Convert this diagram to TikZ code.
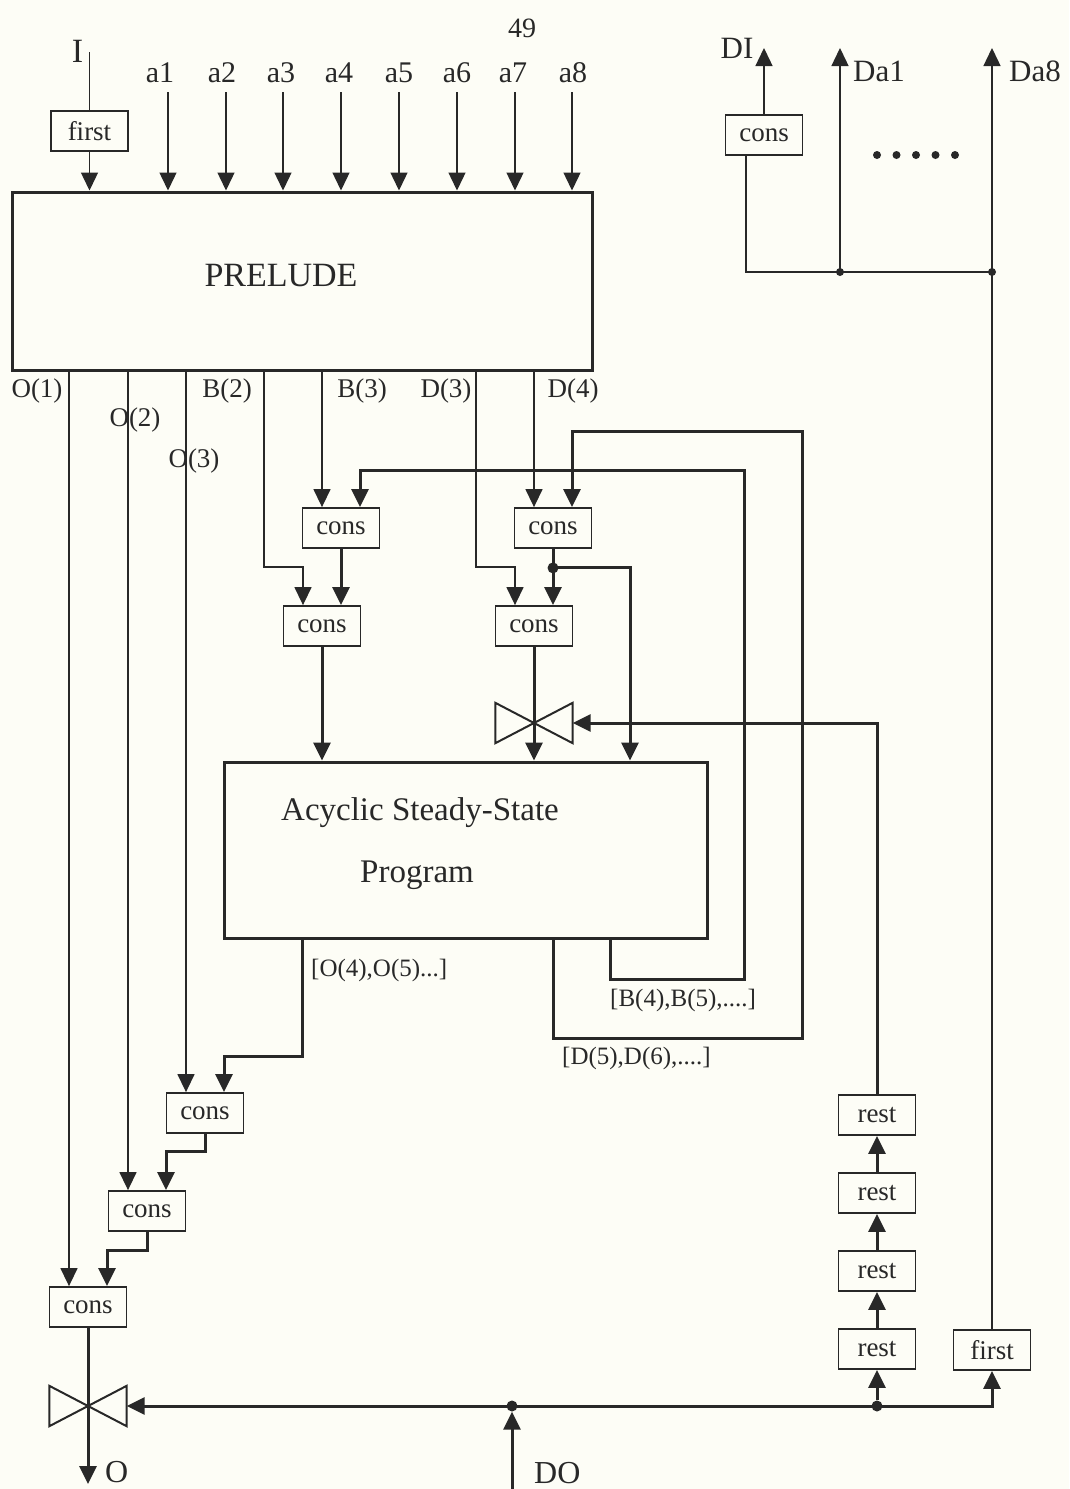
\documentclass[tikz,border=0pt]{standalone}
\usepackage{fontspec}
\setmainfont{Liberation Serif}
\usetikzlibrary{arrows.meta}
\definecolor{ink}{RGB}{40,40,40}
\definecolor{paper}{RGB}{253,253,246}
\newcommand\fsz[1]{\fontsize{#1}{#1}\selectfont}

\begin{document}
\begin{tikzpicture}[x=1pt, y=-1pt, color=ink,
  box/.style={draw, line width=1.8pt, minimum width=77pt, minimum height=40pt, inner sep=0pt, font=\fsz{27}},
  big/.style={draw, line width=3pt, inner sep=0pt},
  valve/.style={minimum width=77pt, minimum height=40pt, inner sep=0pt},
  lbl/.style={anchor=base, inner sep=0pt, font=\fsz{27}},
  dot/.style={circle, fill, inner sep=0pt, minimum size=11pt},
  wire/.style={line width=1.4pt},
  bus/.style={line width=3pt},
  arr/.style={-{Triangle[width=17pt,length=18pt]}}
]
\fill[paper] (0,0) rectangle (1069,1489);
\useasboundingbox (0,0) rectangle (1069,1489);

% main blocks
\node[big, minimum width=580pt, minimum height=178pt] (prelude) at (302,281) {};
\node[big, minimum width=483pt, minimum height=176pt] (acyc) at (465.5,850) {};
\node[lbl, font=\fsz{34}] (tPrelude) at (281,286) {PRELUDE};
\node[lbl, font=\fsz{33}] (tAcyc1) at (420,820) {Acyclic Steady-State};
\node[lbl, font=\fsz{33}] (tAcyc2) at (417,882) {Program};

% small boxes
\node[box] (firstI) at (89.5,131) {first};
\node[box] (consDI) at (764,135) {cons};
\node[box] (cB1) at (341,528) {cons};
\node[box] (cB2) at (322,626) {cons};
\node[box] (cD1) at (553,528) {cons};
\node[box] (cD2) at (534,626) {cons};
\node[box] (cO3) at (205,1113) {cons};
\node[box] (cO2) at (147,1211) {cons};
\node[box] (cO1) at (88,1307) {cons};
\node[box] (rest4) at (877,1115) {rest};
\node[box] (rest3) at (877,1193) {rest};
\node[box] (rest2) at (877,1271) {rest};
\node[box] (rest1) at (877,1349) {rest};
\node[box] (firstD) at (992,1350) {first};

% valves
\node[valve] (vD) at (534,723) {};
\node[valve] (vO) at (88,1406) {};
\draw[line width=2pt] (vD.north west) -- (vD.south east) -- (vD.north east) -- (vD.south west) -- cycle;
\draw[line width=2pt] (vO.north west) -- (vO.south east) -- (vO.north east) -- (vO.south west) -- cycle;

% input pins
\coordinate (cB1a) at ([xshift=-19pt]cB1.north);
\coordinate (cB1b) at ([xshift=19pt]cB1.north);
\coordinate (cB2a) at ([xshift=-19pt]cB2.north);
\coordinate (cB2b) at ([xshift=19pt]cB2.north);
\coordinate (cD1a) at ([xshift=-19pt]cD1.north);
\coordinate (cD1b) at ([xshift=19pt]cD1.north);
\coordinate (cD2a) at ([xshift=-19pt]cD2.north);
\coordinate (cD2b) at ([xshift=19pt]cD2.north);
\coordinate (cO3a) at ([xshift=-19pt]cO3.north);
\coordinate (cO3b) at ([xshift=19pt]cO3.north);
\coordinate (cO2a) at ([xshift=-19pt]cO2.north);
\coordinate (cO2b) at ([xshift=19pt]cO2.north);
\coordinate (cO1a) at ([xshift=-19pt]cO1.north);
\coordinate (cO1b) at ([xshift=19pt]cO1.north);
\coordinate (consDIa) at ([xshift=-18pt]consDI.south);

% inputs of the prelude
\coordinate (inI) at (89.5,52);
\coordinate (ina1) at (168,92);
\coordinate (ina2) at (226,92);
\coordinate (ina3) at (283,92);
\coordinate (ina4) at (341,92);
\coordinate (ina5) at (399,92);
\coordinate (ina6) at (457,92);
\coordinate (ina7) at (515,92);
\coordinate (ina8) at (572,92);
\node[lbl, font=\fsz{34}] (lI) at (77.5,62) {I};
\node[lbl, font=\fsz{28}] (lPage) at (522,37) {49};
\node[lbl, font=\fsz{30}] (la1) at (160,82) {a1};
\node[lbl, font=\fsz{30}] (la2) at (222,82) {a2};
\node[lbl, font=\fsz{30}] (la3) at (281,82) {a3};
\node[lbl, font=\fsz{30}] (la4) at (339,82) {a4};
\node[lbl, font=\fsz{30}] (la5) at (399,82) {a5};
\node[lbl, font=\fsz{30}] (la6) at (457,82) {a6};
\node[lbl, font=\fsz{30}] (la7) at (513,82) {a7};
\node[lbl, font=\fsz{30}] (la8) at (573,82) {a8};
\draw[wire] (inI) -- (firstI);
\draw[wire,arr] (firstI) -- (prelude.north -| firstI);
\draw[wire,arr] (ina1) -- (prelude.north -| ina1);
\draw[wire,arr] (ina2) -- (prelude.north -| ina2);
\draw[wire,arr] (ina3) -- (prelude.north -| ina3);
\draw[wire,arr] (ina4) -- (prelude.north -| ina4);
\draw[wire,arr] (ina5) -- (prelude.north -| ina5);
\draw[wire,arr] (ina6) -- (prelude.north -| ina6);
\draw[wire,arr] (ina7) -- (prelude.north -| ina7);
\draw[wire,arr] (ina8) -- (prelude.north -| ina8);

% outputs of the prelude
\coordinate (pB2) at (264,370);
\coordinate (pD3) at (476,370);
\node[lbl] (lO1) at (37,397) {O(1)};
\node[lbl] (lO2) at (135,426) {O(2)};
\node[lbl] (lO3) at (194,467) {O(3)};
\node[lbl] (lB2) at (227,397) {B(2)};
\node[lbl] (lB3) at (362,397) {B(3)};
\node[lbl] (lD3) at (446,397) {D(3)};
\node[lbl] (lD4) at (573,397) {D(4)};
\draw[wire,arr] (prelude.south -| cO1a) -- (cO1a);
\draw[wire,arr] (prelude.south -| cO2a) -- (cO2a);
\draw[wire,arr] (prelude.south -| cO3a) -- (cO3a);
\draw[wire,arr] (pB2) -- ++(0,197) -| (cB2a);
\draw[wire,arr] (prelude.south -| cB1a) -- (cB1a);
\draw[wire,arr] (pD3) -- ++(0,197) -| (cD2a);
\draw[wire,arr] (prelude.south -| cD1a) -- (cD1a);

% cons chains into the program
\coordinate (aIn) at ([xshift=164.5pt]acyc.north);
\node[dot] (jD) at ([yshift=-19pt]cD1.south) {};
\draw[bus,arr] (cB1.south) -- (cB2b);
\draw[bus,arr] (cB2.south) -- (acyc.north -| cB2.south);
\draw[bus,arr] (cD1.south) -- (cD2b);
\draw[bus,arr] (jD.center) -| (aIn);
\draw[bus,arr] (cD2.south) -- (acyc.north -| cD2.south);
\draw[bus,arr] (rest4.north) |- (vD.east);

% outputs of the program
\coordinate (oO) at ([xshift=-163.5pt]acyc.south);
\coordinate (oD) at ([xshift=87.5pt]acyc.south);
\coordinate (oB) at ([xshift=144.5pt]acyc.south);
\draw[bus,arr] (oO) -- ++(0,117) -| (cO3b);
\draw[bus,arr] (oB) -- ++(0,40) -- ++(134,0) -- ++(0,-509) -| (cB1b);
\draw[bus,arr] (oD) -- ++(0,99) -- ++(249,0) -- ++(0,-607) -| (cD1b);
\node[lbl, anchor=base west, font=\fsz{25}] (lOs) at (311,976) {[O(4),O(5)...]};
\node[lbl, anchor=base west, font=\fsz{25}] (lBs) at (610,1006) {[B(4),B(5),....]};
\node[lbl, anchor=base west, font=\fsz{25}] (lDs) at (562,1064) {[D(5),D(6),....]};

% output chain
\coordinate (outO) at (88,1484);
\draw[bus,arr] (cO3.south) -- ++(0,18) -| (cO2b);
\draw[bus,arr] (cO2.south) -- ++(0,19) -| (cO1b);
\draw[bus,arr] (cO1.south) -- (outO);
\node[lbl, anchor=base west, font=\fsz{32}] (lO) at (105,1482) {O};

% demand input
\coordinate (inDO) at (512,1489);
\node[dot] (jDO) at (512,1406) {};
\node[dot] (jR) at (877,1406) {};
\draw[bus,arr] (inDO) -- (jDO);
\draw[bus,arr] (jR.center) -- (vO.east);
\draw[bus,arr] (jR) -- (rest1.south);
\draw[bus,arr] (jR.center) -| (firstD.south);
\draw[bus,arr] (rest1) -- (rest2);
\draw[bus,arr] (rest2) -- (rest3);
\draw[bus,arr] (rest3) -- (rest4);
\node[lbl, anchor=base west, font=\fsz{32}] (lDO) at (534,1483) {DO};

% demand outputs
\coordinate (outDI) at (764,48);
\coordinate (outDa1) at (840,48);
\coordinate (outDa8) at (992,48);
\node[dot, minimum size=8pt] (jDa1) at (840,272) {};
\node[dot, minimum size=8pt] (jDa8) at (992,272) {};
\draw[wire,arr] (firstD.north) -- (outDa8);
\draw[wire] (jDa8.center) -| (consDIa);
\draw[wire,arr] (jDa1.center) -- (outDa1);
\draw[wire,arr] (consDI.north) -- (outDI);
\node[lbl, font=\fsz{31}] (lDI) at (737,58) {DI};
\node[lbl, font=\fsz{31}] (lDa1) at (879,81) {Da1};
\node[lbl, font=\fsz{31}] (lDa8) at (1035,81) {Da8};
\fill (877,155) circle (4pt) (896.5,155) circle (4pt) (916,155) circle (4pt)
  (935.5,155) circle (4pt) (955,155) circle (4pt);
\end{tikzpicture}
\end{document}
